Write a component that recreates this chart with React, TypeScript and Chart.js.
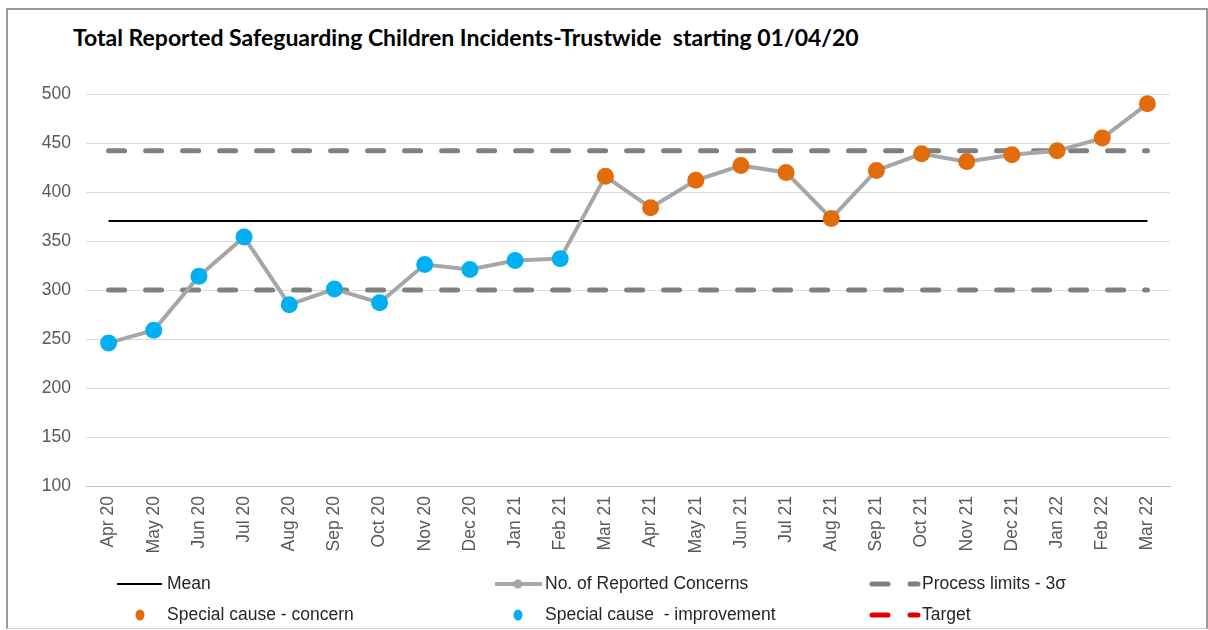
import React, { useEffect, useRef } from "react";
import { Chart, registerables } from "chart.js";

Chart.register(...registerables);

const chartTitle = "Total Reported Safeguarding Children Incidents-Trustwide  starting 01/04/20";

const categories = [
  "Apr 20", "May 20", "Jun 20", "Jul 20", "Aug 20", "Sep 20", "Oct 20", "Nov 20",
  "Dec 20", "Jan 21", "Feb 21", "Mar 21", "Apr 21", "May 21", "Jun 21", "Jul 21",
  "Aug 21", "Sep 21", "Oct 21", "Nov 21", "Dec 21", "Jan 22", "Feb 22", "Mar 22",
];

const reportedConcerns = [
  246, 259, 314, 354, 285, 301, 287, 326, 321, 330, 332, 416,
  384, 412, 427, 420, 373, 422, 439, 431, 438, 442, 455, 490,
];

// "I" = special cause improvement, "C" = special cause concern
const specialCause = [
  "I", "I", "I", "I", "I", "I", "I", "I", "I", "I", "I", "C",
  "C", "C", "C", "C", "C", "C", "C", "C", "C", "C", "C", "C",
];

const meanValue = 370.5;
const upperLimitValue = 442;
const lowerLimitValue = 300;
const targetValues: (number | null)[] = [];

const yTicks = [100, 150, 200, 250, 300, 350, 400, 450, 500];

const FONT = "'Liberation Sans', Arial, sans-serif";

const legendItems = [
  { label: "Mean", kind: "line", col: 0, row: 0 },
  { label: "No. of Reported Concerns", kind: "lineMarker", col: 1, row: 0 },
  { label: "Process limits - 3\u03c3", kind: "dash", col: 2, row: 0 },
  { label: "Special cause - concern", kind: "dot", col: 0, row: 1 },
  { label: "Special cause  - improvement", kind: "dot", col: 1, row: 1 },
  { label: "Target", kind: "dash", col: 2, row: 1 },
];

const COLORS = {
  mean: "#000000",
  reported: "#A6A6A6",
  limits: "#808080",
  concern: "#E36C0A",
  improvement: "#00B0F0",
  target: "#E00000",
};

const legendPlugin = {
  id: "customLegend",
  afterDraw(chart: any) {
    const ctx = chart.ctx;
    const colX = [117, 495, 870];
    const textX = [167, 545, 922];
    const rowY = [584, 615];
    ctx.save();
    ctx.font = `17.5px ${FONT}`;
    ctx.textBaseline = "middle";
    ctx.textAlign = "left";
    for (const item of legendItems) {
      const x0 = colX[item.col];
      const y = rowY[item.row];
      const name = item.label;
      ctx.lineCap = "butt";
      ctx.setLineDash([]);
      if (name === "Mean") {
        ctx.strokeStyle = COLORS.mean;
        ctx.lineWidth = 2;
        ctx.beginPath();
        ctx.moveTo(x0, y);
        ctx.lineTo(x0 + 45, y);
        ctx.stroke();
      } else if (item.kind === "lineMarker") {
        ctx.strokeStyle = COLORS.reported;
        ctx.lineWidth = 4;
        ctx.beginPath();
        ctx.moveTo(x0, y);
        ctx.lineTo(x0 + 47, y);
        ctx.stroke();
        ctx.fillStyle = COLORS.reported;
        ctx.beginPath();
        ctx.arc(x0 + 23, y, 4.5, 0, Math.PI * 2);
        ctx.fill();
      } else if (item.kind === "dash") {
        ctx.strokeStyle = name === "Target" ? COLORS.target : COLORS.limits;
        ctx.lineWidth = 5;
        ctx.lineCap = "round";
        ctx.beginPath();
        ctx.moveTo(x0 + 2, y);
        ctx.lineTo(x0 + 18, y);
        ctx.moveTo(x0 + 40, y);
        ctx.lineTo(x0 + 48, y);
        ctx.stroke();
      } else if (item.kind === "dot") {
        ctx.fillStyle = name.includes("concern") ? COLORS.concern : COLORS.improvement;
        ctx.beginPath();
        ctx.ellipse(colX[item.col] + 23, y, 4.5, 5.5, 0, 0, Math.PI * 2);
        ctx.fill();
      }
      ctx.fillStyle = "#262626";
      ctx.fillText(name, textX[item.col], y);
    }
    ctx.restore();
  },
};

export default function App() {
  const canvasRef = useRef<HTMLCanvasElement | null>(null);

  useEffect(() => {
    if (!canvasRef.current) return;
    const concernData = reportedConcerns.map((v, i) => (specialCause[i] === "C" ? v : null));
    const improvementData = reportedConcerns.map((v, i) => (specialCause[i] === "I" ? v : null));
    const meanData = categories.map(() => meanValue);
    const upperData = categories.map(() => upperLimitValue);
    const lowerData = categories.map(() => lowerLimitValue);

    const chart = new Chart(canvasRef.current, {
      type: "line",
      data: {
        labels: categories,
        datasets: [
          {
            label: "Special cause - concern",
            data: concernData,
            showLine: false,
            pointRadius: 8.5,
            pointBorderWidth: 0,
            pointBackgroundColor: COLORS.concern,
            pointBorderColor: COLORS.concern,
            order: 0,
          },
          {
            label: "Special cause  - improvement",
            data: improvementData,
            showLine: false,
            pointRadius: 8.5,
            pointBorderWidth: 0,
            pointBackgroundColor: COLORS.improvement,
            pointBorderColor: COLORS.improvement,
            order: 0,
          },
          {
            label: "No. of Reported Concerns",
            data: reportedConcerns,
            borderColor: COLORS.reported,
            borderWidth: 4,
            pointRadius: 0,
            tension: 0,
            order: 1,
          },
          {
            label: "Mean",
            data: meanData,
            borderColor: COLORS.mean,
            borderWidth: 2,
            pointRadius: 0,
            order: 2,
          },
          {
            label: "Process limits - 3\u03c3",
            data: upperData,
            borderColor: COLORS.limits,
            borderWidth: 5,
            borderDash: [16, 21],
            borderCapStyle: "round",
            pointRadius: 0,
            order: 3,
          },
          {
            label: "Lower process limit",
            data: lowerData,
            borderColor: COLORS.limits,
            borderWidth: 5,
            borderDash: [16, 21],
            borderCapStyle: "round",
            pointRadius: 0,
            order: 3,
          },
          {
            label: "Target",
            data: targetValues,
            borderColor: COLORS.target,
            borderWidth: 3,
            borderDash: [10, 8],
            pointRadius: 0,
            order: 4,
          },
        ],
      },
      options: {
        responsive: false,
        animation: false,
        events: [],
        layout: { padding: { left: 0, right: 38, top: 94, bottom: 74 } },
        plugins: {
          legend: { display: false },
          title: { display: false },
          tooltip: { enabled: false },
        },
        scales: {
          x: {
            offset: true,
            grid: { display: false, drawTicks: false },
            border: { display: true, color: "#BFBFBF", width: 1 },
            ticks: {
              autoSkip: false,
              minRotation: 90,
              maxRotation: 90,
              padding: 10,
              color: "#595959",
              font: { family: FONT, size: 17.5 },
            },
            afterFit: (scale: any) => {
              scale.height = 70;
            },
          },
          y: {
            min: 100,
            max: 500,
            afterBuildTicks: (scale: any) => {
              scale.ticks = yTicks.map((v) => ({ value: v }));
            },
            grid: { color: "#D9D9D9", lineWidth: 1, drawTicks: false },
            border: { display: false },
            ticks: {
              padding: 15,
              color: "#595959",
              font: { family: FONT, size: 17.5 },
            },
            afterFit: (scale: any) => {
              scale.width = 86;
            },
          },
        },
      },
      plugins: [legendPlugin],
    });
    return () => chart.destroy();
  }, []);

  return (
    <div
      style={{
        position: "fixed",
        left: 0,
        top: 0,
        width: 1208,
        height: 630,
        background: "#ffffff",
        overflow: "hidden",
      }}
    >
      <div
        style={{
          position: "absolute",
          left: 6,
          top: 8,
          width: 1202,
          height: 621,
          boxSizing: "border-box",
          border: "2px solid #9A9A9A",
          borderBottom: "1px solid #D0D0D0",
        }}
      />
      <div
        style={{
          position: "absolute",
          left: 73,
          top: 22,
          fontFamily: "Lato, 'Open Sans', sans-serif",
          fontWeight: 700,
          fontSize: 23,
          color: "#000000",
          whiteSpace: "pre",
          lineHeight: "30px",
        }}
      >
        {chartTitle}
      </div>
      <canvas
        ref={canvasRef}
        width={1208}
        height={630}
        style={{ position: "absolute", left: 0, top: 0, width: 1208, height: 630 }}
      />
    </div>
  );
}
